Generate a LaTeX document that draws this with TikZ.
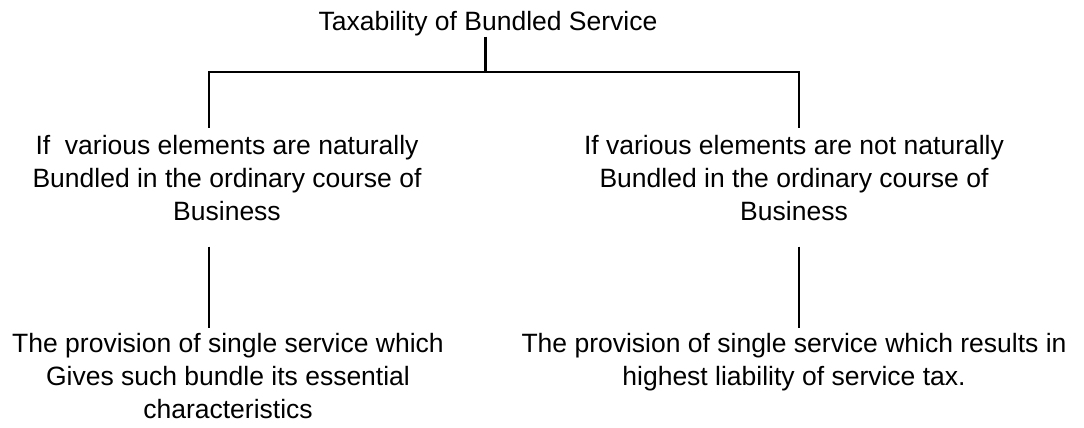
\documentclass[tikz,border=0pt]{standalone}
\usepackage{fontspec}
\setmainfont{Liberation Sans}
\begin{document}
\begin{tikzpicture}[
		x=1pt, y=-1pt,
		txt/.style={
			align=center,
			inner sep=0pt,
			font=\fontsize{26.5}{33}\selectfont
		},
		branch/.style={line width=2.4pt}
		]
		\useasboundingbox (0,0) rectangle (1084,428);
		
		% Heading
		\node[txt, anchor=base] (title) at (488,31) {Taxability of Bundled Service};
		
		% Conditions
		\node[txt, anchor=north] (natural) at (227,134.7)
		{If\ \ various elements are naturally\\Bundled in the ordinary course of\\Business};
		\node[txt, anchor=north] (notnatural) at (794,134.7)
		{If various elements are not naturally\\Bundled in the ordinary course of\\Business};
		
		% Results
		\node[txt, anchor=north] (essential) at (228,333)
		{The provision of single service which\\Gives such bundle its essential\\characteristics};
		\node[txt, anchor=north] (highest) at (794,333)
		{The provision of single service which results in\\highest liability of service tax.};
		
		% Bracket
		\coordinate (split) at (485.5,72);
		\coordinate (lbr) at (209,72);
		\coordinate (rbr) at (799,72);
		\draw[branch] (title.south -| split) -- (split);
		\draw[branch, line cap=rect] (lbr) -- (rbr);
		\draw[branch, shorten >=6.7pt] (lbr) -- (lbr |- natural.north);
		\draw[branch, shorten >=6.7pt] (rbr) -- (rbr |- notnatural.north);
		
		% Lower links
		\draw[branch, shorten <=26pt, shorten >=5pt] (lbr |- natural.south) -- (lbr |- essential.north);
		\draw[branch, shorten <=26pt, shorten >=5pt] (rbr |- notnatural.south) -- (rbr |- highest.north);
		
	\end{tikzpicture}
\end{document}
